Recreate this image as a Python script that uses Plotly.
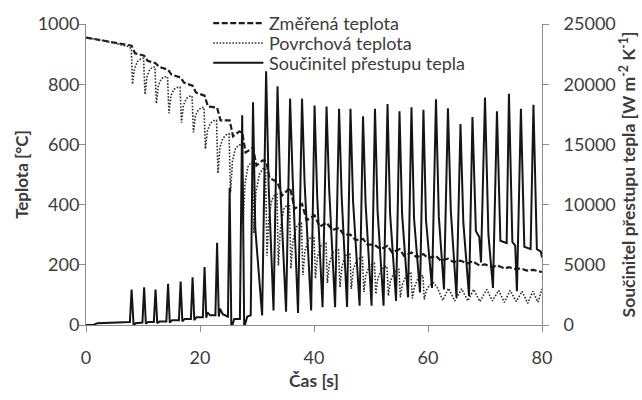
import plotly.graph_objects as go

# ---------------- data ----------------
# Součinitel přestupu tepla [W m-2 K-1]  (time [s], value)
htc_t = [0, 1.3, 2.0, 7.0, 7.7,
         8.0, 8.35, 8.7, 9.9,
         10.2, 10.5, 10.9, 11.9,
         12.2, 12.5, 12.9, 14.1,
         14.4, 14.7, 15.1, 16.3,
         16.6, 16.9, 17.3, 18.4,
         18.7, 19.0, 19.4, 20.5,
         20.8, 21.1, 21.3, 21.8, 22.7,
         23.0, 23.3, 23.5, 24.0, 24.9,
         25.2, 25.5, 26.0, 27.0,
         27.4, 27.75, 28.3, 28.9,
         29.3, 29.7, 30.9,
         31.6, 32.05, 32.9,
         33.6, 34.05, 35.1,
         35.8, 36.25, 37.2,
         37.9, 38.35, 39.5,
         40.1, 40.55, 41.5,
         42.2, 42.65, 43.7,
         44.4, 44.85, 45.8,
         46.4, 46.85, 48.0,
         48.6, 49.05, 50.1,
         50.7, 51.15, 52.2,
         52.9, 53.35, 54.4,
         55.0, 55.45, 56.5,
         57.1, 57.55, 58.6,
         59.2, 59.65, 60.7,
         61.4, 61.9, 62.8,
         63.5, 64.0, 65.0,
         65.7, 66.2, 67.2,
         67.8, 68.4, 69.0, 69.3,
         70.0, 70.6, 71.4,
         72.1, 72.7, 73.8,
         74.2, 74.8, 75.3, 75.6,
         76.3, 76.9, 78.0,
         78.5, 79.1, 79.8, 80.0]
htc_v = [0, 0, 150, 200, 250,
         2950, -50, 150, 200,
         3130, 100, 250, 250,
         2950, 150, 300, 300,
         3430, 200, 400, 400,
         3620, 300, 500, 500,
         3960, 400, 650, 650,
         4820, 600, 1050, 800, 800,
         6830, 700, 1350, 900, 700,
         11400, -300, 500, 500,
         17420, -200, 700, 800,
         18490, 8000, 800,
         21080, 11500, 1200,
         19830, 11800, 1100,
         18800, 12300, 1000,
         18800, 11800, 1200,
         18220, 10800, 1470,
         18140, 11400, 1470,
         17950, 10700, 1500,
         17950, 10300, 1600,
         17340, 10100, 1600,
         17950, 9500, 1600,
         18350, 9250, 2000,
         17760, 9250, 2300,
         18090, 8840, 2700,
         17870, 8700, 3080,
         18750, 9000, 2950,
         18000, 9500, 2280,
         16700, 8500, 2400,
         17280, 7800, 7300, 5200,
         18890, 7500, 3080,
         17760, 7000, 6800,
         19210, 6900, 6600, 2800,
         17950, 6500, 6300,
         18300, 6300, 6100, 5600]

# Změřená teplota [°C]
meas_t = [0, 2, 5, 7.8, 8.0, 8.6, 10.2, 10.8, 12.2, 12.8, 14.4, 15.0,
          16.6, 17.2, 18.7, 19.3, 20.8, 21.4, 23.0, 23.6, 25.2, 25.8,
          26.9, 27.4, 28.0, 29.3, 29.9, 31.0, 31.6, 32.2, 33.6, 34.4,
          35.8, 36.6, 37.9, 38.7, 40.1, 41.0, 42.2, 43.2, 44.4, 45.2,
          46.4, 47.3, 48.6, 49.3, 50.7, 51.7, 52.9, 53.7, 55.0, 55.8,
          57.1, 58.0, 59.2, 60.0, 61.4, 62.2, 63.5, 64.5, 65.7, 66.9,
          67.8, 69.0, 70.0, 71.3, 72.1, 73.5, 74.2, 75.4, 76.3, 77.3,
          78.5, 79.5, 80.0]
meas_v = [955, 948, 940, 930, 928, 903, 895, 878, 870, 858, 848, 832,
          822, 805, 795, 772, 762, 726, 722, 680, 680, 627,
          643, 640, 573, 589, 530, 547, 545, 488, 475, 430,
          456, 386, 402, 348, 364, 327, 340, 316, 322, 300,
          300, 282, 286, 268, 265, 252, 263, 241, 252, 230,
          241, 225, 236, 222, 230, 214, 220, 209, 214, 204,
          212, 198, 201, 193, 198, 188, 192, 186, 188, 181,
          183, 178, 176]

# Povrchová teplota [°C]
surf_t = [0, 3, 7.5, 7.95,
          8.15, 8.5, 9.0, 9.6, 10.1,
          10.35, 10.7, 11.2, 11.7, 12.1,
          12.35, 12.7, 13.2, 13.8, 14.3,
          14.55, 14.9, 15.4, 16.0, 16.5,
          16.75, 17.1, 17.6, 18.2, 18.6,
          18.85, 19.2, 19.7, 20.3, 20.7,
          20.95, 21.3, 21.8, 22.4, 22.9,
          23.15, 23.5, 24.0, 24.6, 25.1,
          25.35, 25.7, 26.2, 26.8, 27.3,
          27.55, 27.9, 28.4, 28.9, 29.2,
          29.45, 29.8, 30.4, 31.0, 31.5,
          31.75, 32.1, 32.6, 33.1, 33.5,
          33.75, 34.1, 34.7, 35.3, 35.7,
          35.95, 36.3, 36.9, 37.4, 37.8,
          38.05, 38.4, 39.0, 39.6, 40.0,
          40.25, 40.6, 41.2, 41.7, 42.1,
          42.35, 42.7, 43.3, 43.9, 44.3,
          44.55, 44.9, 45.5, 46.0, 46.3,
          46.55, 46.9, 47.5, 48.1, 48.5,
          48.75, 49.1, 49.7, 50.3, 50.6,
          50.85, 51.2, 51.8, 52.4, 52.8,
          53.05, 53.4, 54.0, 54.6, 54.9,
          55.15, 55.5, 56.1, 56.7, 57.0,
          57.25, 57.6, 58.2, 58.8, 59.1,
          59.35, 59.7, 60.3, 61.0, 61.6,
          62.6, 63.6, 64.7, 65.9, 67.0, 68.0, 69.1, 70.3, 71.3,
          72.4, 73.4, 74.4, 75.5, 76.5, 77.5, 78.4, 79.3, 80.0]
surf_v = [955, 945, 925, 918,
          800, 850, 875, 884, 886,
          766, 825, 850, 856, 857,
          736, 795, 818, 824, 825,
          704, 762, 783, 789, 790,
          672, 730, 752, 760, 761,
          640, 695, 715, 722, 723,
          585, 645, 670, 679, 680,
          504, 590, 620, 632, 635,
          440, 545, 585, 598, 600,
          338, 470, 525, 540, 541,
          305, 440, 500, 518, 520,
          230, 360, 415, 432, 434,
          198, 320, 385, 400, 402,
          187, 280, 325, 336, 338,
          166, 245, 283, 294, 295,
          155, 225, 262, 270, 272,
          140, 205, 240, 249, 250,
          125, 195, 230, 238, 240,
          120, 185, 215, 223, 225,
          110, 165, 195, 203, 205,
          103, 155, 183, 193, 195,
          97, 145, 173, 183, 185,
          92, 135, 163, 173, 175,
          88, 125, 153, 163, 165,
          85, 115, 133, 140, 125,
          82, 122, 80, 120, 80, 118, 78, 118, 80,
          115, 75, 115, 78, 112, 72, 112, 76, 120]

x_ticks = [0, 20, 40, 60, 80]
y_ticks = [0, 200, 400, 600, 800, 1000]
y2_ticks = [0, 5000, 10000, 15000, 20000, 25000]

names = ["Změřená teplota", "Povrchová teplota", "Součinitel přestupu tepla"]

# ---------------- figure ----------------
FONT = "Lato"
TXT = "#3c3c3c"
AX = "#8c8c8c"

styles = [dict(color="#1e1e1e", width=2.2, dash="6px,2.5px"),
          dict(color="#2e2e2e", width=1.6, dash="1.6px,1.6px"),
          dict(color="#151515", width=2)]

fig = go.Figure()
fig.add_trace(go.Scatter(x=meas_t, y=meas_v, name=names[0], mode="lines",
                         line=styles[0], showlegend=False))
fig.add_trace(go.Scatter(x=surf_t, y=surf_v, name=names[1], mode="lines",
                         line=styles[1], showlegend=False))
fig.add_trace(go.Scatter(x=htc_t, y=htc_v, name=names[2], mode="lines", yaxis="y2",
                         line=styles[2], showlegend=False))

axis_common = dict(showline=True, linecolor=AX, linewidth=1, ticks="outside",
                   tickcolor=AX, ticklen=6, showgrid=False, zeroline=False,
                   tickfont=dict(family=FONT, size=18, color=TXT))

# legend drawn in paper coordinates (key line + label per series)
leg_rows = [1.003, 0.937, 0.871]
leg_x0, leg_x1, leg_tx = 0.279, 0.389, 0.398
shapes, annotations = [], []
for nm, st, yy in zip(names, styles, leg_rows):
    shapes.append(dict(type="line", xref="paper", yref="paper",
                       x0=leg_x0, x1=leg_x1, y0=yy, y1=yy, line=st))
    annotations.append(dict(text=nm, xref="paper", yref="paper", x=leg_tx, y=yy,
                            xanchor="left", yanchor="middle", showarrow=False,
                            font=dict(family=FONT, size=18, color=TXT)))

fig.update_layout(
    width=642, height=400,
    margin=dict(l=86, r=100, t=24, b=65),
    paper_bgcolor="white", plot_bgcolor="white",
    font=dict(family=FONT, color=TXT),
    xaxis=dict(range=[0, 80], tickvals=x_ticks, ticklabelstandoff=10,
               title=dict(text="<b>Čas [s]</b>", font=dict(family=FONT, size=17.5, color=TXT),
                          standoff=8),
               **axis_common),
    yaxis=dict(range=[0, 1000], tickvals=y_ticks, ticklabelstandoff=-4,
               title=dict(text="<b>Teplota [°C]</b>", font=dict(family=FONT, size=17, color=TXT),
                          standoff=4),
               **axis_common),
    yaxis2=dict(range=[0, 25000], tickvals=y2_ticks, ticktext=[str(v) for v in y2_ticks],
                overlaying="y", side="right", ticklabelstandoff=11,
                title=dict(text="<b>Součinitel přestupu tepla [W m<sup>-2</sup> K<sup>-1</sup>]</b>",
                           font=dict(family=FONT, size=17.5, color=TXT), standoff=2),
                **axis_common),
    shapes=shapes,
    annotations=annotations,
    showlegend=False,
)

fig.write_html("out.html")
